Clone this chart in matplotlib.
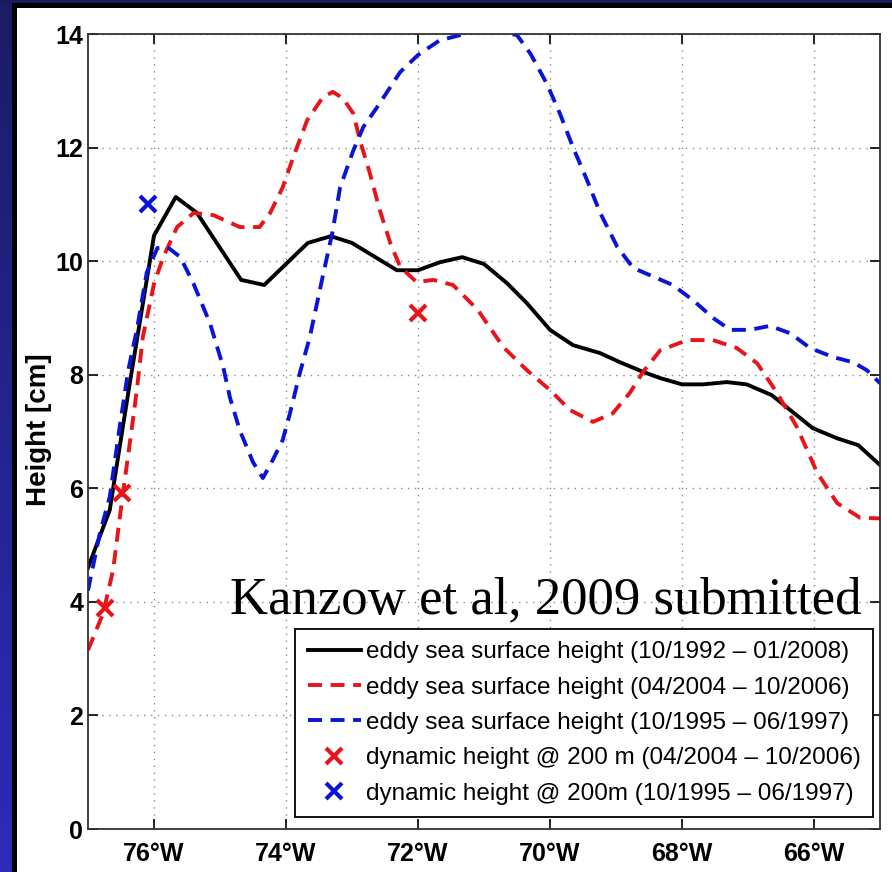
import numpy as np
import matplotlib.pyplot as plt
from matplotlib.patches import Rectangle

# Longitude (deg, negative = W) and eddy height (cm)
black_lon = [-77.0, -76.67, -76.52, -76.36, -76.21, -76.0, -75.67, -75.35, -74.68, -74.33,
             -73.67, -73.32, -73.0, -72.32, -72.0, -71.67, -71.33, -71.0, -70.65, -70.35,
             -70.0, -69.65, -69.24, -68.94, -68.59, -68.33, -68.0, -67.68, -67.32, -67.02,
             -66.64, -66.32, -66.02, -65.65, -65.33, -65.0]
black_h = [4.6, 5.62, 6.73, 7.9, 8.96, 10.45, 11.13, 10.85, 9.67, 9.58,
           10.32, 10.44, 10.32, 9.84, 9.84, 9.98, 10.07, 9.95, 9.61, 9.26,
           8.79, 8.52, 8.38, 8.22, 8.05, 7.94, 7.83, 7.83, 7.87, 7.83,
           7.64, 7.34, 7.06, 6.88, 6.76, 6.41]

red_lon = [-77.0, -76.77, -76.62, -76.47, -76.36, -76.26, -76.17, -76.0, -75.86, -75.65,
           -75.4, -75.1, -74.7, -74.4, -74.24, -74.05, -73.89, -73.68, -73.44, -73.29,
           -73.14, -72.98, -72.88, -72.73, -72.58, -72.42, -72.27, -72.02, -71.77, -71.47,
           -71.1, -70.71, -70.35, -70.0, -69.7, -69.35, -69.05, -68.79, -68.59, -68.33,
           -67.92, -67.53, -67.17, -66.86, -66.56, -66.26, -65.95, -65.65, -65.3, -65.0]
red_h = [3.15, 3.8, 4.56, 5.92, 6.85, 7.73, 8.66, 9.6, 10.07, 10.6,
         10.85, 10.81, 10.6, 10.6, 10.85, 11.3, 11.83, 12.48, 12.89, 12.98,
         12.87, 12.6, 12.13, 11.55, 10.9, 10.32, 9.9, 9.63, 9.67, 9.58,
         9.15, 8.49, 8.08, 7.73, 7.38, 7.17, 7.32, 7.68, 8.05, 8.43,
         8.61, 8.61, 8.47, 8.2, 7.68, 7.08, 6.27, 5.74, 5.48, 5.47]

blue_lon = [-77.0, -76.82, -76.67, -76.52, -76.39, -76.26, -76.11, -75.95, -75.8, -75.6,
            -75.4, -75.15, -74.95, -74.85, -74.7, -74.5, -74.35, -74.2, -74.05, -73.94,
            -73.79, -73.64, -73.44, -73.3, -73.18, -72.98, -72.83, -72.62, -72.27, -72.0,
            -71.67, -71.36, -71.0, -70.5, -70.3, -70.05, -69.85, -69.65, -69.44, -69.24,
            -68.98, -68.74, -68.48, -68.14, -67.83, -67.53, -67.27, -66.97, -66.67, -66.36,
            -66.06, -65.71, -65.41, -65.2, -65.0]
blue_h = [4.2, 5.21, 5.85, 7.08, 8.08, 8.79, 9.8, 10.23, 10.25, 10.07,
          9.6, 8.9, 8.13, 7.6, 7.02, 6.46, 6.18, 6.5, 6.85, 7.32,
          8.03, 8.66, 9.75, 10.49, 11.3, 11.95, 12.36, 12.71, 13.33, 13.63,
          13.89, 13.98, 14.1, 13.98, 13.66, 13.13, 12.6, 12.0, 11.43, 10.85,
          10.25, 9.88, 9.75, 9.58, 9.31, 9.0, 8.79, 8.79, 8.86, 8.73,
          8.47, 8.31, 8.22, 8.08, 7.85]

# dynamic height at 200 m
dh_red_lon = [-76.74, -76.48, -72.0]
dh_red_h = [3.89, 5.91, 9.08]
dh_blue_lon = [-76.09]
dh_blue_h = [11.0]

xticks = [-76, -74, -72, -70, -68, -66]
xticklabels = ['76°W', '74°W', '72°W', '70°W', '68°W', '66°W']
yticks = [0, 2, 4, 6, 8, 10, 12, 14]

labels = ['eddy sea surface height (10/1992 – 01/2008)',
          'eddy sea surface height (04/2004 – 10/2006)',
          'eddy sea surface height (10/1995 – 06/1997)',
          'dynamic height @ 200 m (04/2004 – 10/2006)',
          'dynamic height @ 200m (10/1995 – 06/1997)']

plt.rcParams['font.family'] = ['Liberation Sans', 'DejaVu Sans']

W, H = 892, 872
fig = plt.figure(figsize=(W / 100, H / 100), dpi=100)
fig.patch.set_facecolor('white')

# slide frame: blue strip on the left, navy band on top, black edges
grad = fig.add_axes([0, 0, 12 / W, 1])
g = np.linspace(0, 1, 256)[:, None]
navy = np.array([0x1c, 0x1c, 0x66]) / 255
blue = np.array([0x2c, 0x2c, 0xb8]) / 255
grad.imshow(navy + g[..., None] * (blue - navy), aspect='auto', extent=(0, 1, 0, 1))
grad.axis('off')
fig.add_artist(Rectangle((0, 1 - 3 / H), 1, 3 / H, transform=fig.transFigure,
                         color='#1a1a5e', lw=0))
fig.add_artist(Rectangle((12 / W, 1 - 8 / H), 1, 5 / H, transform=fig.transFigure,
                         color='black', lw=0))
fig.add_artist(Rectangle((12 / W, 0), 5 / W, 1 - 3 / H, transform=fig.transFigure,
                         color='black', lw=0))

ax = fig.add_axes([88 / W, 43 / H, 792 / W, 795 / H])
ax.plot(black_lon, black_h, color='black', lw=2.8, label=labels[0])
ax.plot(red_lon, red_h, color='#e8141a', lw=2.8, dashes=(3.6, 2.2), label=labels[1])
ax.plot(blue_lon, blue_h, color='#0a14d8', lw=2.8, dashes=(3.6, 2.2), label=labels[2])
ax.plot(dh_red_lon, dh_red_h, 'x', color='#e8141a', ms=12, mew=3, ls='none', label=labels[3])
ax.plot(dh_blue_lon, dh_blue_h, 'x', color='#0a14d8', ms=12, mew=3, ls='none', label=labels[4])

ax.set_xlim(-77, -65)
ax.set_ylim(0, 14)
ax.set_xticks(xticks)
ax.set_xticklabels(xticklabels)
ax.set_yticks(yticks)
ax.tick_params(direction='in', length=7, width=1.2, top=True, right=True, labelsize=18)
ax.tick_params(axis='x', pad=9)
ax.tick_params(axis='y', pad=3.5)
for t in ax.get_xticklabels() + ax.get_yticklabels():
    t.set_fontweight('bold')
ax.grid(True, ls=(0, (1, 4)), color='#888888', lw=1)
for s in ax.spines.values():
    s.set_linewidth(1.3)
    s.set_color('#333333')

fig.text(39 / W, 1 - 430 / H, 'Height [cm]', rotation=90, ha='center', va='center',
         fontsize=20, fontweight='bold')

leg = ax.legend(loc='upper right', bbox_to_anchor=(873 / W, 1 - 629 / H),
                bbox_transform=fig.transFigure, borderaxespad=0, fancybox=False,
                edgecolor='black', framealpha=1, fontsize=17.5, handlelength=2.2,
                labelspacing=0.55, handletextpad=0.2, borderpad=0.5)
leg.get_frame().set_linewidth(1.3)

fig.text(230 / W, 1 - 613 / H, 'Kanzow et al, 2009 submitted',
         family='Liberation Serif', fontsize=38, va='baseline')

fig.savefig('out.png', dpi=100)
